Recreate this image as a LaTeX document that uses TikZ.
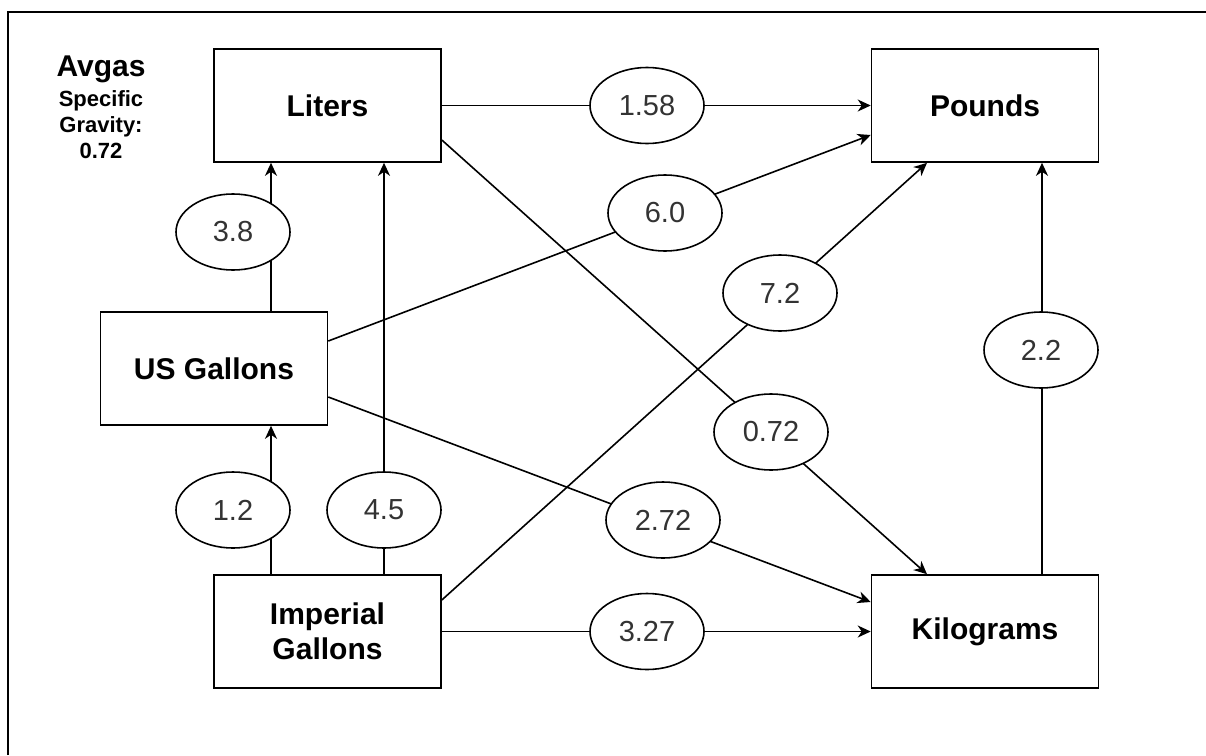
\documentclass[tikz,border=0pt]{standalone}
\usepackage{fontspec}
\setmainfont{Liberation Sans}
\usetikzlibrary{arrows.meta,shapes.geometric}
\definecolor{numgray}{HTML}{333333}
\begin{document}
\begin{tikzpicture}[x=1pt,y=-1pt,
  box/.style={draw,line width=1.6pt,minimum width=227pt,minimum height=113pt,inner sep=0pt,
    font=\fontsize{30}{35}\selectfont\bfseries,align=center},
  conv/.style={draw,ellipse,fill=white,line width=1.6pt,minimum width=114pt,minimum height=76pt,
    inner sep=0pt,font=\fontsize{29}{35}\selectfont,text=numgray},
  link/.style={line width=1.6pt,-{Stealth[length=13pt,width=12pt,inset=4pt]}},
  frame/.style={line width=1.6pt}]
\useasboundingbox (0,0) rectangle (1206,755);
\draw[frame] (8,755) -- (8,12) -- (1206,12);

\node[font=\fontsize{30}{35}\selectfont\bfseries,anchor=base,inner sep=0pt] (avgas) at (101,76) {Avgas};
\node[font=\fontsize{22}{26}\selectfont\bfseries,align=center,anchor=north,inner sep=0pt] (sg) at (101,90) {Specific\\Gravity:\\0.72};

\node[box] (lit) at (327.5,105.5) {Liters};
\node[box] (lb) at (985,105.5) {Pounds};
\node[box] (usg) at (214,368.5) {US Gallons};
\node[box] (imp) at (327.5,631.5) {Imperial\\Gallons};
\node[box] (kg) at (985,631.5) {Kilograms};

\draw[link] (lit.east) -- (lb.west);
\draw[link] ([xshift=57pt]usg.north) -- ([xshift=-56.5pt]lit.south);
\draw[link] ([xshift=56.5pt]imp.north) -- ([xshift=56.5pt]lit.south);
\draw[link] ([xshift=-56.5pt]imp.north) -- ([xshift=57pt]usg.south);
\draw[link] ([yshift=27.5pt]usg.east) -- ([yshift=-29.5pt]lb.west);
\draw[link] ([yshift=31.5pt]imp.east) -- ([xshift=-58pt]lb.south);
\draw[link] ([yshift=-34.5pt]lit.east) -- ([xshift=-58pt]kg.north);
\draw[link] ([yshift=-28.5pt]usg.east) -- ([yshift=29.5pt]kg.west);
\draw[link] (imp.east) -- (kg.west);
\draw[link] ([xshift=57pt]kg.north) -- ([xshift=57pt]lb.south);

\node[conv] (c158) at (647,105.5) {1.58};
\node[conv] (c38) at (233,232) {3.8};
\node[conv] (c60) at (665,213) {6.0};
\node[conv] (c72) at (780,293) {7.2};
\node[conv] (c072) at (771,432) {0.72};
\node[conv] (c272) at (663,520) {2.72};
\node[conv] (c12) at (233,510) {1.2};
\node[conv] (c45) at (384,510) {4.5};
\node[conv] (c327) at (647,631.5) {3.27};
\node[conv] (c22) at (1041,350) {2.2};
\end{tikzpicture}
\end{document}
